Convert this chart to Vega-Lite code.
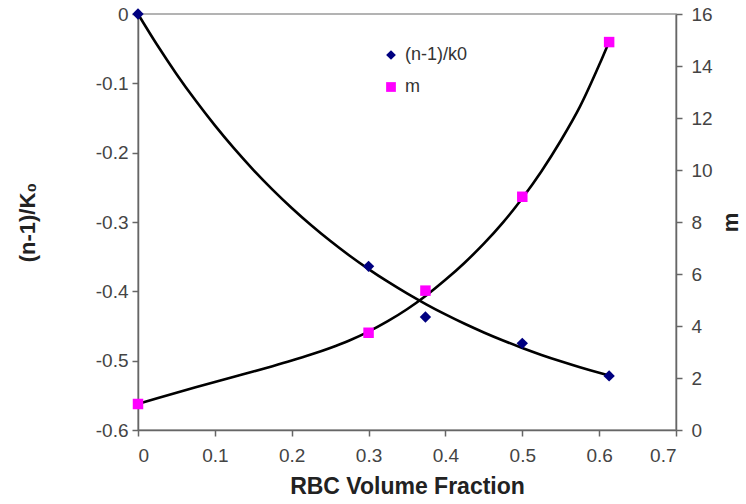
{
  "$schema": "https://vega.github.io/schema/vega-lite/v6.json",
  "autosize": "none",
  "width": 538,
  "height": 416,
  "padding": {"left": 138, "top": 14, "right": 70, "bottom": 74},
  "background": "white",
  "config": {
    "view": {"stroke": "#9a9a9a", "strokeWidth": 1.5},
    "font": "Liberation Sans",
    "axis": {
      "grid": false,
      "domainColor": "#666666",
      "domainWidth": 1.5,
      "tickColor": "#666666",
      "tickWidth": 1.5,
      "tickSize": 6,
      "labelFont": "Liberation Sans",
      "labelFontSize": 19,
      "labelColor": "#444444",
      "titleFont": "Liberation Sans",
      "titleFontSize": 22,
      "titleFontWeight": "bold",
      "titleColor": "#222222"
    },
    "legend": {"labelFont": "Liberation Sans", "labelFontSize": 18, "labelColor": "#333333"}
  },
  "datasets": {
    "pts": [
      {"x": 0, "series": "(n-1)/k0", "value": 0},
      {"x": 0.3, "series": "(n-1)/k0", "value": -0.364},
      {"x": 0.374, "series": "(n-1)/k0", "value": -0.437},
      {"x": 0.5, "series": "(n-1)/k0", "value": -0.475},
      {"x": 0.613, "series": "(n-1)/k0", "value": -0.522},
      {"x": 0, "series": "m", "value": 1.0},
      {"x": 0.3, "series": "m", "value": 3.74},
      {"x": 0.374, "series": "m", "value": 5.36},
      {"x": 0.5, "series": "m", "value": 8.97},
      {"x": 0.613, "series": "m", "value": 14.92}
    ],
    "fit": [
      {"x": 0, "k": 0, "m": 1.0},
      {"x": 0.025, "k": -0.0448, "m": 1.22},
      {"x": 0.05, "k": -0.0864, "m": 1.435},
      {"x": 0.075, "k": -0.1249, "m": 1.645},
      {"x": 0.1, "k": -0.1607, "m": 1.85},
      {"x": 0.125, "k": -0.1939, "m": 2.05},
      {"x": 0.15, "k": -0.2247, "m": 2.25},
      {"x": 0.175, "k": -0.2532, "m": 2.455},
      {"x": 0.2, "k": -0.2797, "m": 2.67},
      {"x": 0.225, "k": -0.3043, "m": 2.9},
      {"x": 0.25, "k": -0.3271, "m": 3.155},
      {"x": 0.275, "k": -0.3483, "m": 3.445},
      {"x": 0.3, "k": -0.3679, "m": 3.785},
      {"x": 0.325, "k": -0.3861, "m": 4.185},
      {"x": 0.35, "k": -0.403, "m": 4.645},
      {"x": 0.375, "k": -0.4187, "m": 5.175},
      {"x": 0.4, "k": -0.4333, "m": 5.775},
      {"x": 0.425, "k": -0.4468, "m": 6.435},
      {"x": 0.45, "k": -0.4593, "m": 7.165},
      {"x": 0.475, "k": -0.4709, "m": 7.985},
      {"x": 0.5, "k": -0.4817, "m": 8.915},
      {"x": 0.525, "k": -0.4917, "m": 9.955},
      {"x": 0.55, "k": -0.5009, "m": 11.125},
      {"x": 0.575, "k": -0.5095, "m": 12.435},
      {"x": 0.6, "k": -0.5175, "m": 14.035},
      {"x": 0.613, "k": -0.5214, "m": 14.935}
    ]
  },
  "encoding": {
    "x": {
      "field": "x",
      "type": "quantitative",
      "scale": {"domain": [0, 0.7], "nice": false},
      "axis": {
        "title": "RBC Volume Fraction",
        "values": [0, 0.1, 0.2, 0.3, 0.4, 0.5, 0.6, 0.7],
        "format": ".1~f",
        "labelPadding": 10,
        "titlePadding": 10,
        "titleFontSize": 23
      }
    }
  },
  "layer": [
    {
      "layer": [
        {
          "data": {"name": "fit"},
          "mark": {"type": "line", "color": "black", "strokeWidth": 2.6, "interpolate": "monotone"},
          "encoding": {
            "y": {
              "field": "k",
              "type": "quantitative",
              "scale": {"domain": [-0.6, 0], "nice": false},
              "axis": {
                "title": "(n-1)/K₀",
                "values": [-0.6, -0.5, -0.4, -0.3, -0.2, -0.1, 0],
                "format": ".1~f",
                "labelExpr": "replace(datum.label, '\u2212', '-')",
                "labelPadding": 4,
                "titlePadding": 56
              }
            }
          }
        },
        {
          "data": {"name": "pts"},
          "transform": [{"filter": "datum.series === '(n-1)/k0'"}],
          "mark": {"type": "point", "filled": true, "opacity": 1, "size": 130},
          "encoding": {
            "y": {"field": "value", "type": "quantitative"},
            "color": {
              "field": "series",
              "type": "nominal",
              "scale": {"domain": ["(n-1)/k0", "m"], "range": ["#000080", "#ff00ff"]},
              "legend": {
                "title": null,
                "orient": "none",
                "legendX": 244,
                "legendY": 32,
                "padding": 0,
                "rowPadding": 14,
                "symbolOpacity": 1,
                "symbolSize": 95,
                "labelOffset": 5
              }
            },
            "shape": {
              "field": "series",
              "type": "nominal",
              "scale": {"domain": ["(n-1)/k0", "m"], "range": ["diamond", "square"]},
              "legend": {
                "title": null,
                "orient": "none",
                "legendX": 244,
                "legendY": 32,
                "padding": 0,
                "rowPadding": 14,
                "symbolOpacity": 1,
                "symbolSize": 95,
                "labelOffset": 5
              }
            }
          }
        }
      ]
    },
    {
      "layer": [
        {
          "data": {"name": "fit"},
          "mark": {"type": "line", "color": "black", "strokeWidth": 2.6, "interpolate": "monotone"},
          "encoding": {
            "y": {
              "field": "m",
              "type": "quantitative",
              "scale": {"domain": [0, 16], "nice": false},
              "axis": {
                "orient": "right",
                "title": "m",
                "titleAngle": -90,
                "values": [0, 2, 4, 6, 8, 10, 12, 14, 16],
                "labelPadding": 9,
                "titlePadding": 30
              }
            }
          }
        },
        {
          "data": {"name": "pts"},
          "transform": [{"filter": "datum.series === 'm'"}],
          "mark": {"type": "point", "filled": true, "opacity": 1, "size": 110},
          "encoding": {
            "y": {"field": "value", "type": "quantitative"},
            "color": {"field": "series", "type": "nominal"},
            "shape": {"field": "series", "type": "nominal"}
          }
        }
      ]
    }
  ],
  "resolve": {"scale": {"y": "independent"}}
}
